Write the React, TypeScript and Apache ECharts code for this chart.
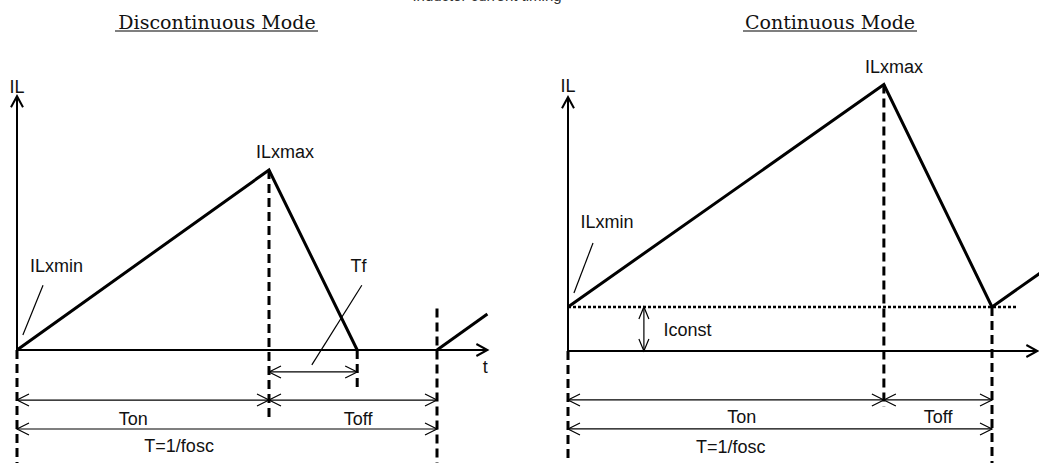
import React, { useEffect, useRef } from "react";
import * as echarts from "echarts";

// ---------- Discontinuous mode (time units, current normalised to ILxmax) ----------
// first pulse (rise during Ton, fall during Tf), then idle at zero, then next pulse begins
const discPulseTime = [0, 6, 8.1];
const discPulseCurrent = [0, 1, 0];
const discNextTime = [10, 11.2];
const discNextCurrent = [0, 0.2];
const discAxisEnd = [11.2, 1.41]; // [t arrow, IL arrow]
// dashed guides: [time, from current, to current]
const discGuides = [
  [0, 0, -0.7],
  [6, 1, -0.39],
  [8.1, 0, -0.23],
  [10, 0.23, -0.7],
];
// dimension arrows: [t1, t2, level]
const discDims = [
  [6, 8.1, -0.122],
  [0, 6, -0.278],
  [6, 10, -0.278],
  [0, 10, -0.439],
];
// leader lines: [t1, i1, t2, i2]
const discLeaders = [
  [0.62, 0.36, 0.14, 0.083],
  [8.21, 0.36, 7.02, -0.083],
];
const discLabelText = ["IL", "t", "ILxmin", "ILxmax", "Tf", "Ton", "Toff", "T=1/fosc"];
const discLabelPos = [
  [0, 1.461],
  [11.15, -0.092],
  [0.94, 0.464],
  [6.38, 1.1],
  [8.13, 0.464],
  [2.77, -0.381],
  [8.12, -0.381],
  [3.86, -0.536],
];

// ---------- Continuous mode ----------
const contTime = [0, 7.45, 10, 11.2];
const contCurrent = [0.245, 1.48, 0.245, 0.444];
const contIconst = 0.245;
const contIconstEnd = 10.6;
const contAxisEnd = [11.07, 1.41];
const contGuides = [
  [0, 0, -0.7],
  [7.45, 1.48, -0.31],
  [10, 0.245, -0.7],
];
const contDims = [
  [0, 7.45, -0.272],
  [7.45, 10, -0.272],
  [0, 10, -0.433],
];
// vertical dimension (Iconst): [time, i1, i2]
const contVDims = [[1.79, 0, 0.245]];
const contLeaders = [[0.59, 0.6, 0.14, 0.322]];
const contLabelText = ["IL", "ILxmin", "ILxmax", "Iconst", "Ton", "Toff", "T=1/fosc"];
const contLabelPos = [
  [0, 1.472],
  [0.92, 0.714],
  [7.69, 1.578],
  [2.82, 0.119],
  [4.1, -0.369],
  [8.73, -0.369],
  [3.84, -0.531],
];

const INK = "#000";
const TEXT = "#111";
const LABEL_FONT = '18px "Liberation Sans", Arial, sans-serif';

function chevron(tip: number[], dir: number[], len: number, half: number, lw: number) {
  const [dx, dy] = dir;
  const nx = -dy;
  const ny = dx;
  const bx = tip[0] - dx * len;
  const by = tip[1] - dy * len;
  return {
    type: "polyline",
    shape: {
      points: [
        [bx + nx * half, by + ny * half],
        [tip[0], tip[1]],
        [bx - nx * half, by - ny * half],
      ],
    },
    style: { stroke: INK, fill: "none", lineWidth: lw },
  };
}

function seg(a: number[], b: number[], lw: number, dash?: number[]) {
  return {
    type: "line",
    shape: { x1: a[0], y1: a[1], x2: b[0], y2: b[1] },
    style: { stroke: INK, lineWidth: lw, lineDash: dash || null, fill: "none" },
  };
}

function waveSeries(idx: number, name: string, time: number[], current: number[]) {
  return {
    xAxisIndex: idx,
    yAxisIndex: idx,
    silent: true,
    type: "line",
    name,
    data: time.map((t, i) => [t, current[i]]),
    symbol: "none",
    clip: false,
    z: 5,
    lineStyle: { color: INK, width: 3, cap: "butt", join: "miter" },
  };
}

function buildPanelSeries(
  idx: number,
  axisEnd: number[],
  guides: number[][],
  dims: number[][],
  vdims: number[][],
  leaders: number[][],
  labelText: string[],
  labelPos: number[][],
  baseline: number | null,
  baselineEnd: number
) {
  const common = { xAxisIndex: idx, yAxisIndex: idx, silent: true };
  const list: any[] = [];
  list.push({
    ...common,
    type: "custom",
    name: "axes" + idx,
    data: [axisEnd],
    z: 2,
    renderItem: (_p: any, api: any) => {
      const o = api.coord([0, 0]);
      const xe = api.coord([api.value(0), 0]);
      const ye = api.coord([0, api.value(1)]);
      return {
        type: "group",
        children: [
          seg(o, xe, 2),
          chevron(xe, [1, 0], 11, 6, 2),
          seg(o, ye, 2),
          chevron(ye, [0, -1], 11, 6, 2),
        ],
      };
    },
  });
  list.push({
    ...common,
    type: "custom",
    name: "guides" + idx,
    data: guides,
    z: 3,
    renderItem: (_p: any, api: any) => {
      const a = api.coord([api.value(0), api.value(1)]);
      const b = api.coord([api.value(0), api.value(2)]);
      return seg(a, b, 3, [9, 5]);
    },
  });
  list.push({
    ...common,
    type: "custom",
    name: "dims" + idx,
    data: dims,
    z: 3,
    renderItem: (_p: any, api: any) => {
      const a = api.coord([api.value(0), api.value(2)]);
      const b = api.coord([api.value(1), api.value(2)]);
      return {
        type: "group",
        children: [seg(a, b, 1.2), chevron(a, [-1, 0], 12, 6, 1.2), chevron(b, [1, 0], 12, 6, 1.2)],
      };
    },
  });
  if (vdims.length) {
    list.push({
      ...common,
      type: "custom",
      name: "vdims" + idx,
      data: vdims,
      z: 3,
      renderItem: (_p: any, api: any) => {
        const a = api.coord([api.value(0), api.value(1)]);
        const b = api.coord([api.value(0), api.value(2)]);
        return {
          type: "group",
          children: [seg(a, b, 1.2), chevron(a, [0, 1], 12, 5, 1.2), chevron(b, [0, -1], 12, 5, 1.2)],
        };
      },
    });
  }
  list.push({
    ...common,
    type: "custom",
    name: "leaders" + idx,
    data: leaders,
    z: 3,
    renderItem: (_p: any, api: any) => {
      const a = api.coord([api.value(0), api.value(1)]);
      const b = api.coord([api.value(2), api.value(3)]);
      return seg(a, b, 1.2);
    },
  });
  if (baseline !== null) {
    list.push({
      ...common,
      type: "line",
      name: "iconst" + idx,
      data: [
        [0, baseline],
        [baselineEnd, baseline],
      ],
      symbol: "none",
      clip: false,
      z: 3,
      lineStyle: { color: INK, width: 2.5, type: [3, 2] },
    });
  }
  list.push({
    ...common,
    type: "custom",
    name: "labels" + idx,
    data: labelPos,
    z: 6,
    renderItem: (p: any, api: any) => {
      const c = api.coord([api.value(0), api.value(1)]);
      return {
        type: "text",
        x: c[0],
        y: c[1],
        style: {
          text: labelText[p.dataIndex],
          font: LABEL_FONT,
          fill: TEXT,
          align: "center",
          verticalAlign: "middle",
          textAlign: "center",
          textVerticalAlign: "middle",
        },
      };
    },
  });
  return list;
}

export default function App() {
  const ref = useRef<HTMLDivElement>(null);
  useEffect(() => {
    if (!ref.current) return;
    const chart = echarts.init(ref.current, null, { renderer: "svg" });
    const yMin = -0.6;
    const yMax = 1.6;
    const pxPerI = 180;
    const option: any = {
      animation: false,
      backgroundColor: "#fff",
      grid: [
        {
          left: 17,
          top: 350 - yMax * pxPerI,
          width: 11.2 * 42,
          height: (yMax - yMin) * pxPerI,
          outerBoundsMode: "none",
          containLabel: false,
        },
        {
          left: 568,
          top: 351 - yMax * pxPerI,
          width: 11.2 * 42.4,
          height: (yMax - yMin) * pxPerI,
          outerBoundsMode: "none",
          containLabel: false,
        },
      ],
      xAxis: [
        { type: "value", gridIndex: 0, min: 0, max: 11.2, show: false },
        { type: "value", gridIndex: 1, min: 0, max: 11.2, show: false },
      ],
      yAxis: [
        { type: "value", gridIndex: 0, min: yMin, max: yMax, show: false },
        { type: "value", gridIndex: 1, min: yMin, max: yMax, show: false },
      ],
      graphic: [
        {
          type: "text",
          x: 487,
          y: 3,
          silent: true,
          style: {
            text: "Inductor current timing",
            font: '15px "Liberation Sans", Arial, sans-serif',
            fill: "#333",
            align: "center",
            verticalAlign: "bottom",
            textAlign: "center",
            textVerticalAlign: "bottom",
          },
        },
        {
          type: "text",
          x: 217,
          y: 22,
          silent: true,
          style: {
            text: "Discontinuous Mode",
            font: '19px "DejaVu Serif", serif',
            fill: TEXT,
            align: "center",
            verticalAlign: "middle",
            textAlign: "center",
            textVerticalAlign: "middle",
          },
        },
        {
          type: "line",
          silent: true,
          shape: { x1: 115, y1: 31, x2: 318, y2: 31 },
          style: { stroke: INK, lineWidth: 1.2 },
        },
        {
          type: "text",
          x: 830,
          y: 22,
          silent: true,
          style: {
            text: "Continuous Mode",
            font: '19px "DejaVu Serif", serif',
            fill: TEXT,
            align: "center",
            verticalAlign: "middle",
            textAlign: "center",
            textVerticalAlign: "middle",
          },
        },
        {
          type: "line",
          silent: true,
          shape: { x1: 743, y1: 31, x2: 917, y2: 31 },
          style: { stroke: INK, lineWidth: 1.2 },
        },
      ],
      series: [
        ...buildPanelSeries(0, discAxisEnd, discGuides, discDims, [], discLeaders, discLabelText, discLabelPos, null, 0),
        waveSeries(0, "discPulse", discPulseTime, discPulseCurrent),
        waveSeries(0, "discNext", discNextTime, discNextCurrent),
        ...buildPanelSeries(1, contAxisEnd, contGuides, contDims, contVDims, contLeaders, contLabelText, contLabelPos, contIconst, contIconstEnd),
        waveSeries(1, "contWave", contTime, contCurrent),
      ],
    };
    chart.setOption(option);
    return () => chart.dispose();
  }, []);
  return (
    <div
      ref={ref}
      style={{ position: "fixed", left: 0, top: 0, width: 1039, height: 463, background: "#fff" }}
    />
  );
}
